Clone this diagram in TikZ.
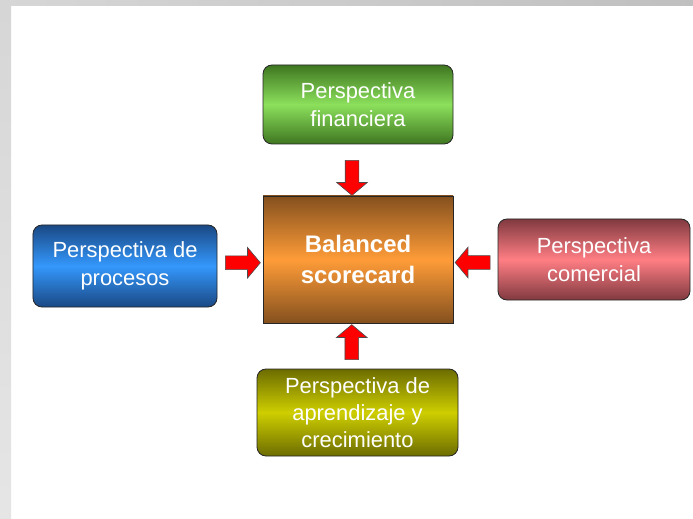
\documentclass[tikz,border=0pt]{standalone}
\usepackage{fontspec}
\setmainfont{Liberation Sans}
\usetikzlibrary{positioning,shapes.arrows,calc}

\definecolor{fintop}{RGB}{62,118,32}
\definecolor{finmid}{RGB}{140,224,92}
\definecolor{proctop}{RGB}{26,72,132}
\definecolor{procmid}{RGB}{52,152,252}
\definecolor{bsctop}{RGB}{132,80,30}
\definecolor{bscmid}{RGB}{255,156,56}
\definecolor{comtop}{RGB}{128,58,64}
\definecolor{commid}{RGB}{255,126,132}
\definecolor{aprtop}{RGB}{108,108,0}
\definecolor{aprmid}{RGB}{206,206,0}
\definecolor{framegray}{RGB}{214,214,214}

\tikzset{
  persp/.style={rounded corners=9bp,draw=black!85,line width=0.8bp,inner sep=0pt,
    align=center,text=white,font=\fontsize{22}{28}\selectfont},
  bigarrow/.style={single arrow,draw=black!70,fill=red,line width=0.6bp,inner sep=0pt,
    inner ysep=6.5bp,minimum height=35bp,single arrow head extend=8.5bp,
    single arrow tip angle=100}
}

\begin{document}
\begin{tikzpicture}[x=1bp,y=-1bp]

  % page and grey frame
  \useasboundingbox (0,0) rectangle (693,519);
  \fill[white] (0,0) rectangle (693,519);
  \shade[left color=framegray,right color=black!25] (0,0) rectangle (693,6);
  \shade[top color=framegray,bottom color=black!10] (0,6) rectangle (11,519);

  \node [persp,minimum width=190bp,minimum height=127bp,rounded corners=0pt,
    top color=bsctop,bottom color=bsctop,middle color=bscmid,
    font=\fontsize{24}{31}\selectfont\bfseries] at (358,259.5) (bsc) {Balanced\\scorecard};

  \node [persp,minimum width=190bp,minimum height=79bp,
    top color=fintop,bottom color=fintop,middle color=finmid] at (358,104.5) (fin) {Perspectiva\\financiera};
  \node [persp,minimum width=184bp,minimum height=82bp,
    top color=proctop,bottom color=proctop,middle color=procmid] at (125,266) (proc) {Perspectiva de\\procesos};
  \node [persp,minimum width=192bp,minimum height=81bp,
    top color=comtop,bottom color=comtop,middle color=commid] at (594,259.5) (com) {Perspectiva\\comercial};
  \node [persp,minimum width=201bp,minimum height=87bp,font=\fontsize{22}{27}\selectfont,
    top color=aprtop,bottom color=aprtop,middle color=aprmid] at (357.5,412.5) (apr) {Perspectiva de\\aprendizaje y\\crecimiento};

  % block arrows into the scorecard
  \node [bigarrow,rotate=-90] at ($(fin.south)!0.5!(bsc.north)+(-6,5)$) (a1) {};
  \node [bigarrow] at ($(proc.east)!0.5!(bsc.west)$) (a2) {};
  \node [bigarrow,rotate=180] at ($(com.west)!0.5!(bsc.east)+(0,3)$) (a3) {};
  \node [bigarrow,rotate=90] at ($(apr.north)!0.5!(bsc.south)+(-6,-1)$) (a4) {};

\end{tikzpicture}
\end{document}
